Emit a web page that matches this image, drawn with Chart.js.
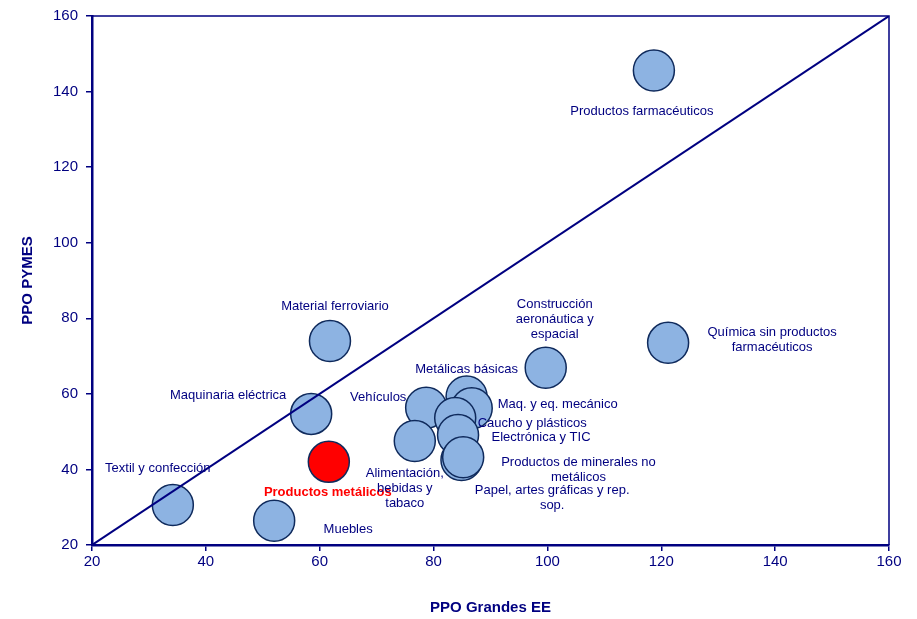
<!DOCTYPE html>
<html>
<head>
<meta charset="utf-8">
<script src="https://cdn.jsdelivr.net/npm/chart.js@4"></script>
<style>
  body { margin: 0; background: #fff; }
  #wrap { width: 917px; height: 619px; }
</style>
</head>
<body>
<div id="wrap"><canvas id="c"></canvas></div>
<script>
// sectores
var sectores = [
  ["Productos farmacéuticos"],
  ["Química sin productos", "farmacéuticos"],
  ["Construcción", "aeronáutica y", "espacial"],
  ["Material ferroviario"],
  ["Maquinaria eléctrica"],
  ["Textil y confección"],
  ["Muebles"],
  ["Productos metálicos"],
  ["Vehículos"],
  ["Alimentación,", "bebidas y", "tabaco"],
  ["Metálicas básicas"],
  ["Maq. y eq. mecánico"],
  ["Caucho y plásticos"],
  ["Electrónica y TIC"],
  ["Productos de minerales no", "metálicos"],
  ["Papel, artes gráficas y rep.", "sop."]
];
var ppoGrandes = [118.7, 121.2, 99.7, 61.8, 58.5, 34.2, 52.0, 61.6, 78.7, 76.7, 85.8, 86.7, 83.8, 84.3, 84.9, 85.2];
var ppoPymes   = [145.6, 73.5, 66.9, 74.0, 54.7, 30.6, 26.4, 42.0, 56.3, 47.5, 59.3, 56.2, 53.6, 49.1, 42.5, 43.2];
var destacado = "Productos metálicos";
var diagonal = [20, 160];

// posicion de las etiquetas respecto al punto (px)
var offsets = [
  [-12, 41], [104, -10], [9, -63], [5, -35], [-83, -18], [-15, -37], [74, 9], [-1, 31],
  [-48, -10], [-10, 32], [0, -27], [86, -4], [77, 5], [83, 2], [117, 2], [89, 33]
];

var azul = "#000080";
var puntos = ppoGrandes.map(function (x, i) { return { x: x, y: ppoPymes[i] }; });
var colores = sectores.map(function (s) { return s[0] === destacado ? "#ff0000" : "#8db3e2"; });

var etiquetas = {
  id: "etiquetas",
  afterDatasetsDraw: function (chart) {
    var ctx = chart.ctx;
    var meta = chart.getDatasetMeta(1);
    ctx.save();
    ctx.textAlign = "center";
    ctx.textBaseline = "middle";
    meta.data.forEach(function (p, i) {
      var lines = sectores[i];
      var red = lines[0] === destacado;
      ctx.font = (red ? "bold " : "") + "13px 'Liberation Sans', Arial, sans-serif";
      ctx.fillStyle = red ? "#ff0000" : azul;
      lines.forEach(function (t, k) {
        ctx.fillText(t, p.x + offsets[i][0], p.y + offsets[i][1] + k * 15);
      });
    });
    // marco del area
    var a = chart.chartArea;
    ctx.strokeStyle = azul;
    ctx.lineWidth = 1.5;
    ctx.beginPath();
    ctx.moveTo(a.left, a.top);
    ctx.lineTo(a.right, a.top);
    ctx.lineTo(a.right, a.bottom);
    ctx.stroke();
    ctx.restore();
  }
};

var tickFont = { family: "'Liberation Sans', Arial, sans-serif", size: 15 };
var titleFont = { family: "'Liberation Sans', Arial, sans-serif", size: 15, weight: "bold" };

new Chart(document.getElementById("c"), {
  type: "scatter",
  data: {
    datasets: [
      {
        type: "line",
        data: diagonal.map(function (v) { return { x: v, y: v }; }),
        borderColor: azul,
        borderWidth: 2,
        pointRadius: 0,
        order: 0
      },
      {
        data: puntos,
        backgroundColor: colores,
        borderColor: "#0f2a5c",
        borderWidth: 1.5,
        pointRadius: 20.5,
        pointHoverRadius: 20.5,
        order: 1
      }
    ]
  },
  options: {
    responsive: true,
    maintainAspectRatio: false,
    animation: false,
    layout: { autoPadding: false, padding: { left: 0, right: 28, top: 16, bottom: 0 } },
    plugins: { legend: { display: false }, tooltip: { enabled: false } },
    scales: {
      x: {
        type: "linear",
        min: 20, max: 160,
        ticks: { stepSize: 20, color: azul, font: tickFont, padding: 2, maxRotation: 0 },
        grid: { drawOnChartArea: false, color: azul, tickLength: 6, lineWidth: 1.5 },
        border: { color: azul, width: 2.5 },
        title: { display: true, text: "PPO Grandes EE", color: azul, font: titleFont, padding: { top: 0, bottom: 2 } },
        afterFit: function (s) { s.height = 74; s.paddingLeft = 0; s.paddingRight = 0; }
      },
      y: {
        type: "linear",
        min: 20, max: 160,
        ticks: { stepSize: 20, color: azul, font: tickFont, padding: 8 },
        grid: { drawOnChartArea: false, color: azul, tickLength: 6, lineWidth: 1.5 },
        border: { color: azul, width: 2.5 },
        title: { display: true, text: "PPO PYMES", color: azul, font: titleFont, padding: { top: 19, bottom: 0 } },
        afterFit: function (s) { s.width = 92; s.paddingTop = 0; s.paddingBottom = 0; }
      }
    }
  },
  plugins: [etiquetas]
});
</script>
</body>
</html>
